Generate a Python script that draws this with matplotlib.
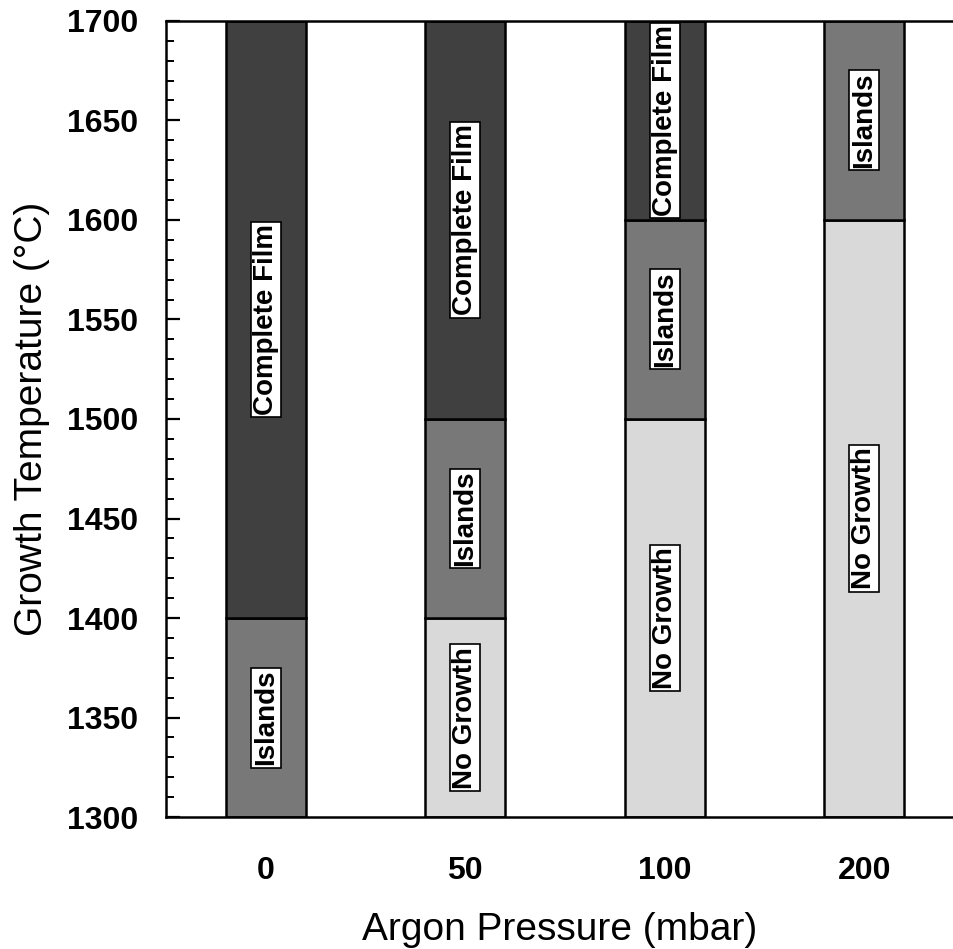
import matplotlib.pyplot as plt
from matplotlib.ticker import MultipleLocator

plt.rcParams['font.family'] = ['Liberation Sans', 'DejaVu Sans']

# argon pressure categories and growth regime boundaries (deg C)
pressures = ['0', '50', '100', '200']
t_min = 1300
no_growth_top = [1300, 1400, 1500, 1600]
islands_top = [1400, 1500, 1600, 1700]
film_top = [1700, 1700, 1700, 1700]

regimes = ['No Growth', 'Islands', 'Complete Film']
colors = ['#d9d9d9', '#787878', '#404040']

fig = plt.figure(figsize=(9.54, 9.49), dpi=100)
ax = fig.add_axes([0.174, 0.139, 0.826, 0.839])

x = range(len(pressures))
width = 0.4
for i in x:
    lows = [t_min, no_growth_top[i], islands_top[i]]
    highs = [no_growth_top[i], islands_top[i], film_top[i]]
    for name, lo, hi, c in zip(regimes, lows, highs, colors):
        if hi <= lo:
            continue
        ax.bar(i, hi - lo, bottom=lo, width=width, color=c,
               edgecolor='black', linewidth=1.8, zorder=2)
        ax.text(i, (lo + hi) / 2, name, rotation=90, ha='center', va='center',
                fontsize=20, fontweight='bold', zorder=3,
                bbox=dict(boxstyle='square,pad=0.08', fc='white', ec='black', lw=1.2))

ax.set_xlim(-0.5, 3.45)
ax.set_ylim(1300, 1700)
ax.set_xticks(list(x))
ax.set_xticklabels(pressures, fontsize=23, fontweight='bold')
ax.tick_params(axis='x', length=0, pad=28)
ax.yaxis.set_major_locator(MultipleLocator(50))
ax.yaxis.set_minor_locator(MultipleLocator(10))
ax.tick_params(axis='y', which='major', direction='in', length=10, width=1.6,
               labelsize=23, pad=20)
ax.tick_params(axis='y', which='minor', direction='in', length=6, width=1.4)
for lab in ax.get_yticklabels():
    lab.set_fontweight('bold')

ax.spines['right'].set_visible(False)
for s in ['left', 'top', 'bottom']:
    ax.spines[s].set_linewidth(1.8)

ax.set_xlabel('Argon Pressure (mbar)', fontsize=28, labelpad=19)
ax.set_ylabel('Growth Temperature (°C)', fontsize=28, labelpad=12)

fig.savefig('out.png', dpi=100)
